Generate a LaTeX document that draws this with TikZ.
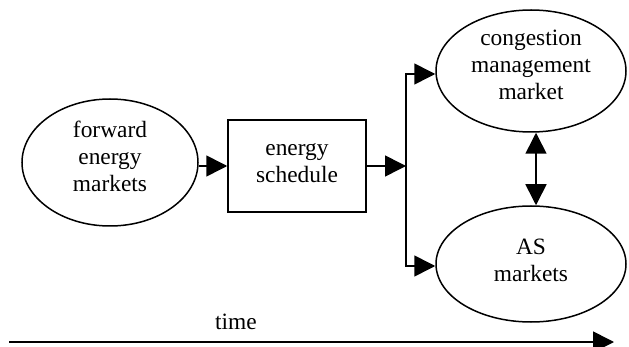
\documentclass[tikz,border=0pt]{standalone}
\usepackage{fontspec}
\setmainfont{Liberation Serif}
\usetikzlibrary{shapes.geometric,arrows.meta}
\begin{document}
\begin{tikzpicture}[x=1pt,y=-1pt,
  every node/.style={font=\fontsize{23.4}{27}\selectfont, align=center, inner sep=0pt},
  oval/.style={draw, ellipse, line width=1.5pt},
  boxnode/.style={draw, rectangle, line width=1.5pt},
  arr/.style={line width=1.6pt, -{Triangle[length=21pt,width=21pt]}},
  darr/.style={line width=1.6pt, {Triangle[length=21pt,width=21pt]}-{Triangle[length=21pt,width=21pt]}}]
\useasboundingbox (0,0) rectangle (629,347);
\node[oval, minimum width=176pt, minimum height=127pt] (fem) at (110,162.5) {};
\node (femt) at ([yshift=6pt]fem.center) {forward\\energy\\markets};
\node[boxnode, minimum width=138pt, minimum height=92pt] (es) at (297,166) {};
\node (est) at ([yshift=3pt]es.center) {energy\\schedule};
\node[oval, minimum width=190pt, minimum height=122pt] (cmm) at (531,71) {};
\node (cmmt) at ([yshift=6pt]cmm.center) {congestion\\management\\market};
\node[oval, minimum width=190pt, minimum height=116pt] (asm) at (531,264) {};
\node (asmt) at ([yshift=4pt]asm.center) {AS\\markets};
\coordinate (j) at (406,166);
\draw[arr] (fem.east |- es.west) -- (es.west);
\draw[arr] (es.east) -- (j);
\draw[arr] (j) |- ([yshift=-3pt]cmm.west);
\draw[arr] (j) |- ([yshift=-2pt]asm.west);
\draw[darr] ([xshift=5pt]cmm.south) -- ([xshift=5pt]asm.north);
\coordinate (t0) at (9,342);
\coordinate (t1) at (614,342);
\node (time) at (236,322) {time};
\draw[arr] (t0) -- (t1);
\end{tikzpicture}
\end{document}
